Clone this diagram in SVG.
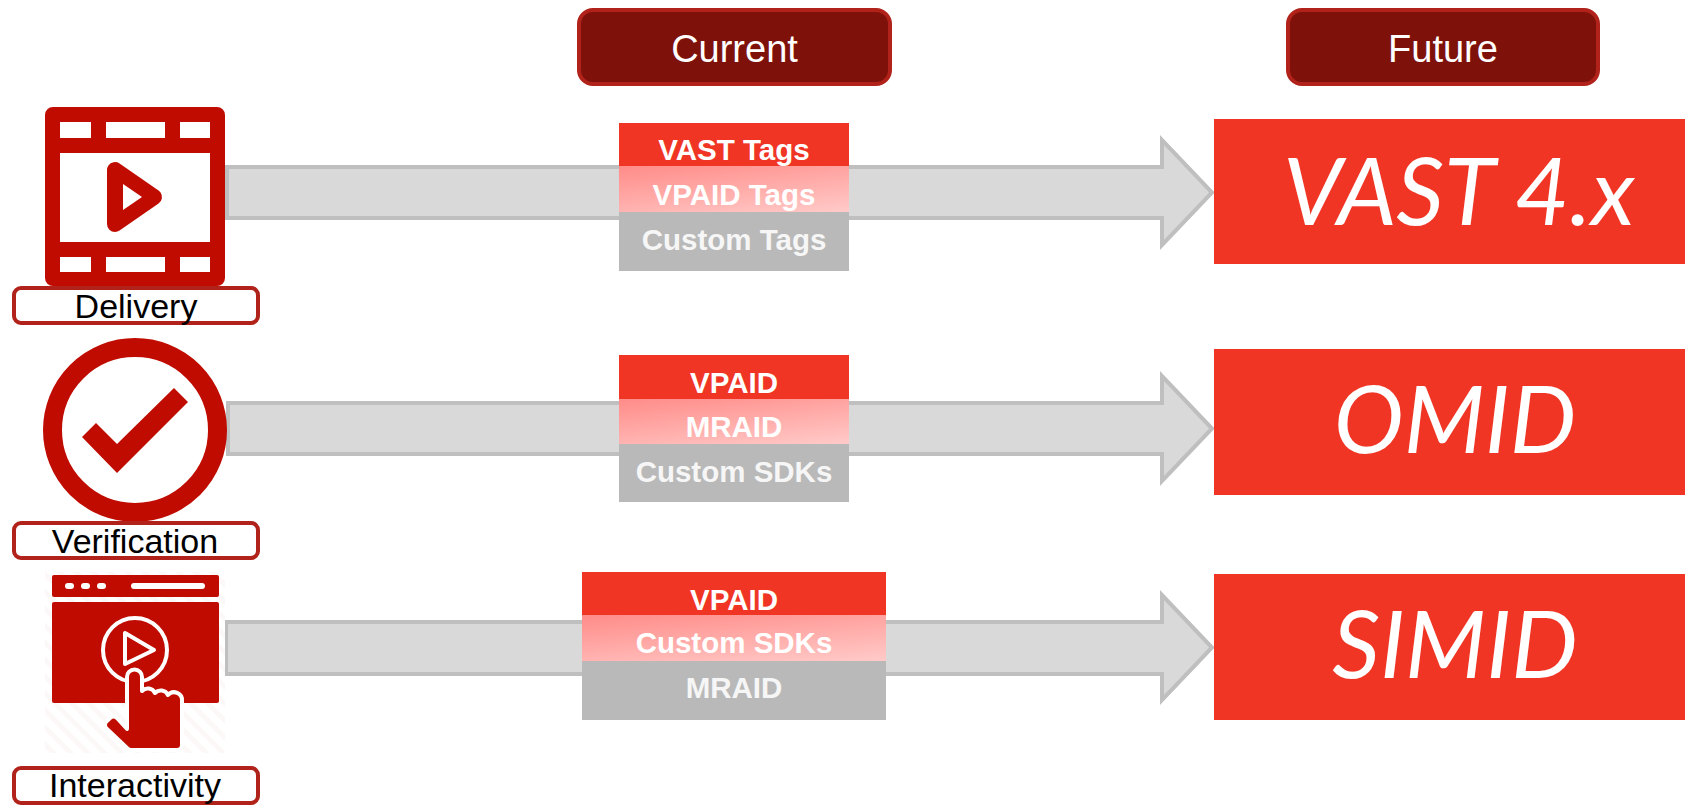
<svg xmlns="http://www.w3.org/2000/svg" width="1685" height="806" viewBox="0 0 1685 806">
<style>
text{font-family:"Liberation Sans",Arial,sans-serif;text-anchor:middle}
.icon{fill:#c00c00}
.hd{fill:#7f110b;stroke:#b0221a;stroke-width:4}
.hdt{font-size:38px;fill:#fff}
.lb{fill:#fff;stroke:#b0221a;stroke-width:4}
.lbt{font-size:34px;fill:#000}
.arr{fill:#d9d9d9;stroke:#bfbfbf;stroke-width:4;stroke-linejoin:miter}
.r{fill:#f03525}
.g{fill:url(#fade)}
.k{fill:#b9b9b9}
.s{font-size:29.500px;font-weight:700;fill:#fff}
.sk{font-size:29.500px;font-weight:700;fill:#f6f6f6}
.big{font-family:Lato,"Open Sans",sans-serif;font-style:italic;font-size:94px;fill:#fff}
</style>
<defs>
<linearGradient id="fade" x1="0.1" y1="0" x2="0.9" y2="1.4">
<stop offset="0" stop-color="#ff8e8b"/><stop offset="1" stop-color="#ffd8d6"/>
</linearGradient>
<pattern id="hatch" width="12" height="12" patternUnits="userSpaceOnUse" patternTransform="rotate(45)">
<rect width="12" height="12" fill="#fff"/><rect width="12" height="5" fill="#fcf8f8"/>
</pattern>
</defs>
<g id="connectors">
<path class="arr" d="M227 167H1162V140L1212 192.500L1162 245V218H227Z"/>
<path class="arr" d="M228 403H1162V376L1212 428.500L1162 481V454H228Z"/>
<path class="arr" d="M226 622H1162V595L1212 647.500L1162 700V674H226Z"/>
</g>
<g id="header-current"><rect class="hd" x="579" y="10" width="311" height="74" rx="14"/><text class="hdt" x="734.500" y="62">Current</text></g>
<g id="header-future"><rect class="hd" x="1288" y="10" width="310" height="74" rx="14"/><text class="hdt" x="1443" y="62">Future</text></g>
<g id="icon-delivery">
<path class="icon" fill-rule="evenodd" d="M53 107H217a8 8 0 0 1 8 8V278a8 8 0 0 1-8 8H53a8 8 0 0 1-8-8V115a8 8 0 0 1 8-8ZM60 122V138H91V122ZM106 122V138H165V122ZM180 122V138H210V122ZM60 153V242H210V153ZM60 257V272H91V257ZM106 257V272H165V257ZM180 257V272H210V257Z"/>
<path class="icon" stroke="#c00c00" stroke-width="16" stroke-linejoin="round" d="M115 170V224L154 197Z"/>
<path fill="#fff" d="M123 184V210L142 197Z"/>
</g>
<g id="label-delivery"><rect class="lb" x="14" y="288" width="244" height="35" rx="7"/><text class="lbt" x="136" y="318">Delivery</text></g>
<g id="icon-verification">
<circle cx="135" cy="430" r="82.500" fill="#fff" stroke="#c00c00" stroke-width="19"/>
<path class="icon" d="M174 388L188 402L117 473L82 437L96 423L117 444Z"/>
</g>
<g id="label-verification"><rect class="lb" x="14" y="523" width="244" height="35" rx="7"/><text class="lbt" x="135" y="553">Verification</text></g>
<g id="icon-interactivity">
<rect x="45" y="572" width="180" height="181" fill="url(#hatch)"/>
<rect class="icon" x="52" y="575" width="167" height="22" rx="2"/>
<g fill="#fff"><rect x="65" y="583" width="9" height="6" rx="3"/><rect x="81" y="583" width="9" height="6" rx="3"/><rect x="97" y="583" width="9" height="6" rx="3"/><rect x="131" y="583" width="74" height="6" rx="3"/></g>
<rect class="icon" x="52" y="602" width="167" height="101" rx="2"/>
<circle cx="135" cy="650" r="32" fill="none" stroke="#fff" stroke-width="4"/>
<path d="M125 633V664L154 650Z" fill="none" stroke="#fff" stroke-width="4" stroke-linejoin="round"/>
<path class="icon" stroke="#fff" stroke-width="4" stroke-linejoin="round" d="M127 677a7.500 7.500 0 0 1 15 0V691a8 8 0 0 1 13 2a8 8 0 0 1 13 2a8 8 0 0 1 14 6V745a5 5 0 0 1-5 5H132a6 6 0 0 1-5-2L107 729a5 5 0 0 1 0-8l3-3a5 5 0 0 1 7 0L127 729Z"/>
</g>
<g id="label-interactivity"><rect class="lb" x="14" y="768" width="244" height="35" rx="7"/><text class="lbt" x="135" y="797">Interactivity</text></g>
<g id="stack-1">
<rect class="r" x="619" y="123" width="230" height="43"/><rect class="g" x="619" y="166" width="230" height="46"/><rect class="k" x="619" y="212" width="230" height="59"/>
<text class="s" x="734" y="160">VAST Tags</text><text class="s" x="734" y="205">VPAID Tags</text><text class="sk" x="734" y="250">Custom Tags</text>
</g>
<g id="stack-2">
<rect class="r" x="619" y="355" width="230" height="44"/><rect class="g" x="619" y="399" width="230" height="45"/><rect class="k" x="619" y="444" width="230" height="58"/>
<text class="s" x="734" y="393">VPAID</text><text class="s" x="734" y="437">MRAID</text><text class="sk" x="734" y="482">Custom SDKs</text>
</g>
<g id="stack-3">
<rect class="r" x="582" y="572" width="304" height="43"/><rect class="g" x="582" y="615" width="304" height="46"/><rect class="k" x="582" y="661" width="304" height="59"/>
<text class="s" x="734" y="610">VPAID</text><text class="s" x="734" y="653">Custom SDKs</text><text class="sk" x="734" y="698">MRAID</text>
</g>
<g id="future-1"><rect class="r" x="1214" y="119" width="471" height="145"/><text class="big" x="1459" y="225">VAST 4.x</text></g>
<g id="future-2"><rect class="r" x="1214" y="349" width="471" height="146"/><text class="big" x="1455" y="453">OMID</text></g>
<g id="future-3"><rect class="r" x="1214" y="574" width="471" height="146"/><text class="big" x="1455" y="678">SIMID</text></g>
</svg>
